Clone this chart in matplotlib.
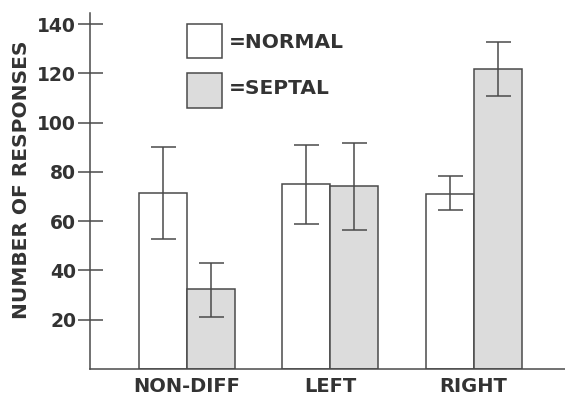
import matplotlib
matplotlib.use("Agg")
import matplotlib.pyplot as plt
from matplotlib.patches import Rectangle
import numpy as np

categories = ["NON-DIFF", "LEFT", "RIGHT"]
normal_vals = [71.5, 75, 71.2]
normal_lo = [52.6, 58.9, 64.4]
normal_hi = [90.1, 91.1, 78.5]
septal_vals = [32.5, 74.2, 121.7]
septal_lo = [21.2, 56.3, 110.7]
septal_hi = [43.1, 91.9, 132.7]
yticks = [20, 40, 60, 80, 100, 120, 140]

plt.rcParams['font.family'] = ['DejaVu Sans']
plt.rcParams['font.weight'] = 'bold'

W, H = 565, 401
fig = plt.figure(figsize=(W/100, H/100), dpi=100)
ax_left, ax_bottom_px, ax_top_px = 90, 369, 13
ax = fig.add_axes([ax_left/W, (H-ax_bottom_px)/H, 1 - ax_left/W, (ax_bottom_px-ax_top_px)/H])

edge = "#4a4a4a"
txt = "#333333"
x = np.arange(len(categories))
bw = 0.335
nx = x - bw/2
sx = x + bw/2
ax.bar(nx, normal_vals, width=bw, facecolor="white", edgecolor=edge, linewidth=1.1, zorder=2)
ax.bar(sx, septal_vals, width=bw, facecolor="#dcdcdc", edgecolor=edge, linewidth=1.1, zorder=2)

def err(xs, vals, lo, hi):
    vals = np.array(vals); lo = np.array(lo); hi = np.array(hi)
    ax.errorbar(xs, vals, yerr=[vals-lo, hi-vals], fmt="none", ecolor=edge,
                elinewidth=1.1, capsize=9, capthick=1.1, zorder=3)

err(nx, normal_vals, normal_lo, normal_hi)
err(sx, septal_vals, septal_lo, septal_hi)

ax.set_xlim(-0.677, 2.638)
ax.set_ylim(0, 144.5)
ax.set_yticks(yticks)
ax.set_yticklabels([str(t) for t in yticks], fontsize=13.5, fontweight='bold', color=txt)
ax.set_xticks(x)
ax.set_xticklabels(categories, fontsize=14, fontweight='bold', color=txt)
ax.tick_params(axis='y', direction='inout', length=18, width=1.1, color=edge, pad=1)
ax.tick_params(axis='x', length=0, pad=6)
for s in ['top', 'right']:
    ax.spines[s].set_visible(False)
for s in ['left', 'bottom']:
    ax.spines[s].set_color(edge)
    ax.spines[s].set_linewidth(1.1)
ax.set_ylabel("NUMBER OF RESPONSES", fontsize=14.5, fontweight='bold', color=txt)
ax.yaxis.set_label_coords(-(90-31)/(W-90), (369-180)/(369-13))

# legend
def box(x0, y0, x1, y1, fc):
    fig.add_artist(Rectangle((x0/W, 1-y1/H), (x1-x0)/W, (y1-y0)/H, facecolor=fc,
                             edgecolor=edge, linewidth=1.1, transform=fig.transFigure))
box(187, 24, 221.5, 58, "white")
box(187, 73, 221.5, 108, "#dcdcdc")
fig.text(229/W, 1-43/H, "=NORMAL", fontsize=14.5, fontweight='bold', color=txt, va='center', ha='left')
fig.text(229/W, 1-89/H, "=SEPTAL", fontsize=14.5, fontweight='bold', color=txt, va='center', ha='left')

fig.savefig("out.png", dpi=100)
